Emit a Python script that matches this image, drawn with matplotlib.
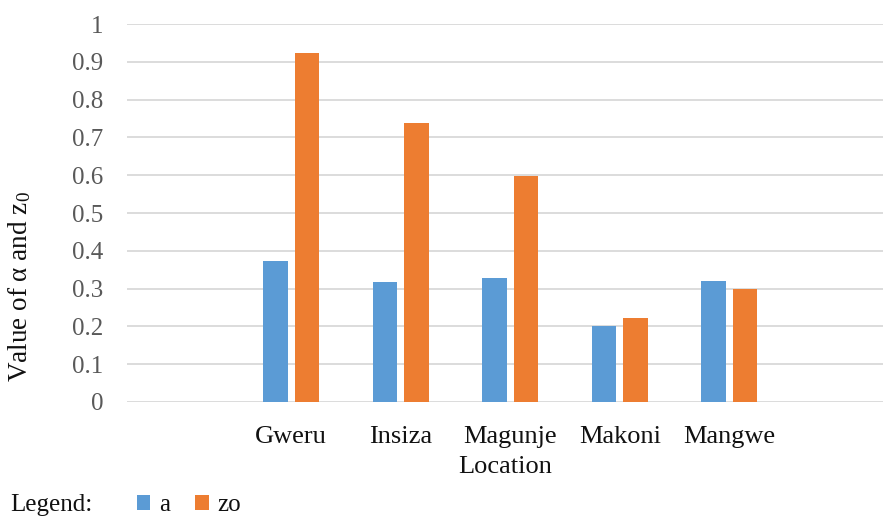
import numpy as np
import matplotlib
matplotlib.use('Agg')
import matplotlib.pyplot as plt

plt.rcParams['font.family'] = ['Liberation Serif', 'DejaVu Serif']
plt.rcParams['mathtext.fontset'] = 'custom'
plt.rcParams['mathtext.rm'] = 'Liberation Serif'
plt.rcParams['mathtext.it'] = 'Liberation Serif:italic'

locations = ['Gweru', 'Insiza', 'Magunje', 'Makoni', 'Mangwe']
alpha = [0.373, 0.318, 0.327, 0.200, 0.321]
z0 = [0.922, 0.739, 0.598, 0.221, 0.300]
yticks = [0, 0.1, 0.2, 0.3, 0.4, 0.5, 0.6, 0.7, 0.8, 0.9, 1]
ytick_labels = ['0', '0.1', '0.2', '0.3', '0.4', '0.5', '0.6', '0.7', '0.8', '0.9', '1']

blue = '#5B9BD5'
orange = '#ED7D31'

fig = plt.figure(figsize=(8.83, 5.16), dpi=100)
ax = fig.add_axes([127 / 883, 114 / 516, 1 - 127 / 883, 378 / 516])

x = np.arange(1, len(locations) + 1)
w = 0.225
b1 = ax.bar(x - 0.143, alpha, w, color=blue, zorder=3)
b2 = ax.bar(x + 0.143, z0, w, color=orange, zorder=3)

ax.set_xlim(-0.5, 6.404)
ax.set_ylim(0, 1)
ax.set_yticks(yticks)
ax.set_yticklabels(ytick_labels)
ax.set_xticks(x)
ax.set_xticklabels(locations)
ax.yaxis.grid(True, color='#D9D9D9', lw=1.3, zorder=0)
ax.set_axisbelow(True)
for s in ax.spines.values():
    s.set_visible(False)
ax.tick_params(axis='y', length=0, pad=17, labelsize=18, labelcolor='#595959')
ax.tick_params(axis='x', length=0, pad=17, labelsize=19, labelcolor='#111111')

ax.set_xlabel('Location', fontsize=19, color='#111111', labelpad=6)
fig.text(20 / 883, 1 - 287 / 516, 'Value of \u03b1 and z$_0$', rotation=90,
         fontsize=19.5, color='#111111', ha='center', va='center')

fig.text(10 / 883, 1 - 505 / 516, 'Legend:', fontsize=18, color='#111111',
         ha='left', va='center')
fig.legend([b1, b2], ['a', 'zo'], loc='center left',
           bbox_to_anchor=(124 / 883, 1 - 505 / 516), ncol=2, frameon=False,
           fontsize=18, handlelength=0.55, handleheight=0.55,
           handletextpad=0.35, columnspacing=1.0, borderpad=0,
           labelcolor='#111111')

fig.savefig('out.png', dpi=100)
